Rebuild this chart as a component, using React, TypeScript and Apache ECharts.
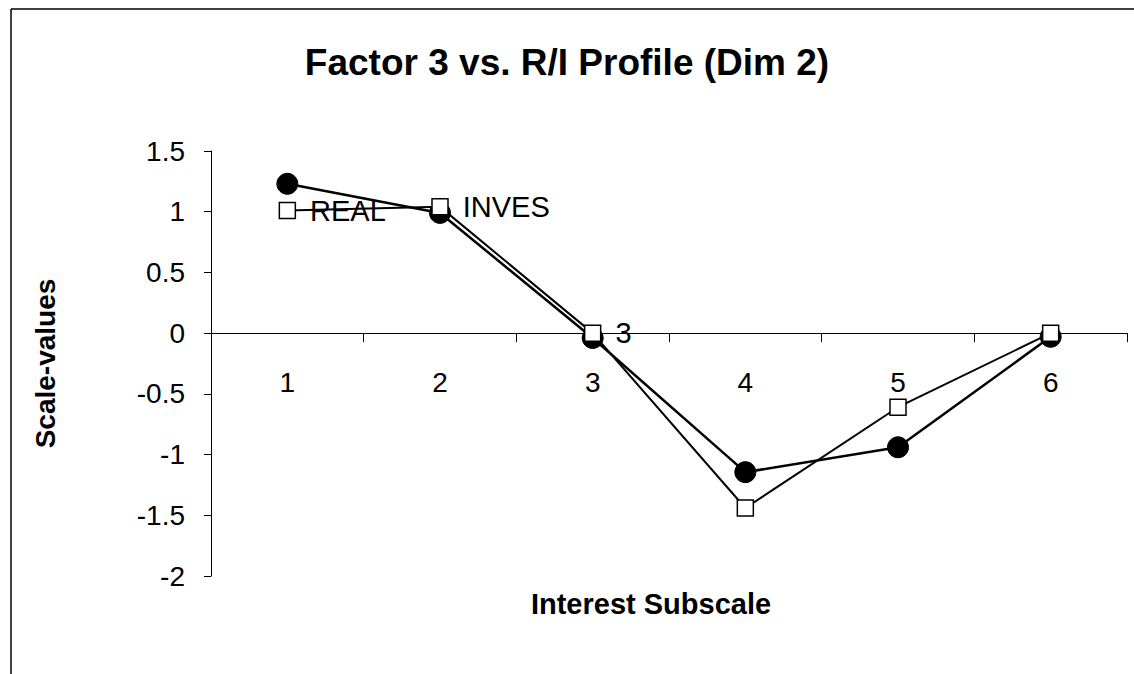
import React, { useEffect, useRef } from "react";
import * as echarts from "echarts";

const categories = ["1", "2", "3", "4", "5", "6"];
const factor3Values = [1.23, 0.99, -0.04, -1.145, -0.94, -0.03];
const profileValues = [1.01, 1.04, 0.0, -1.44, -0.61, 0.0];
const profileLabels = ["REAL", "INVES", "3", "", "", ""];
const yTicks = { min: -2, max: 1.5, interval: 0.5 };

const FONT = "'Liberation Sans', Arial, Helvetica, sans-serif";

const GRID_TOP = 151;
const GRID_BOTTOM = 98;
const CHART_H = 674;

export default function App() {
  const ref = useRef<HTMLDivElement>(null);
  useEffect(() => {
    document.body.style.margin = "0";
    const chart = echarts.init(ref.current!, null, { renderer: "svg" });
    const plotH = CHART_H - GRID_TOP - GRID_BOTTOM;
    const zeroFromBottom = ((0 - yTicks.min) / (yTicks.max - yTicks.min)) * plotH;
    chart.setOption({
      animation: false,
      backgroundColor: "#ffffff",
      textStyle: { fontFamily: FONT, color: "#000" },
      title: {
        text: "Factor 3 vs. R/I Profile (Dim 2)",
        left: "center",
        top: 44,
        padding: 0,
        textStyle: { fontFamily: FONT, fontSize: 37, fontWeight: "bold", color: "#000" },
      },
      graphic: [
        { type: "line", shape: { x1: 11, y1: 9, x2: 1134, y2: 9 }, style: { stroke: "#000", lineWidth: 1.5 } },
        { type: "line", shape: { x1: 11, y1: 9, x2: 11, y2: 674 }, style: { stroke: "#000", lineWidth: 1.5 } },
      ],
      grid: { left: 211, right: 7, top: GRID_TOP, bottom: GRID_BOTTOM, containLabel: false, outerBoundsMode: "none" },
      xAxis: {
        type: "category",
        data: categories,
        boundaryGap: true,
        position: "bottom",
        offset: -zeroFromBottom,
        axisLine: { onZero: false, lineStyle: { color: "#000", width: 1 } },
        axisTick: { show: true, length: 9, inside: false, lineStyle: { color: "#000" } },
        axisLabel: { margin: 35, fontSize: 28, color: "#000", fontFamily: FONT },
        splitLine: { show: false },
        name: "Interest Subscale",
        nameLocation: "middle",
        nameGap: 256,
        nameMoveOverlap: false,
        nameTextStyle: { fontSize: 29, fontWeight: "bold", color: "#000", fontFamily: FONT, padding: [0, 36, 0, 0] },
      },
      yAxis: {
        type: "value",
        min: yTicks.min,
        max: yTicks.max,
        interval: yTicks.interval,
        axisLine: { show: true, lineStyle: { color: "#000", width: 1 } },
        axisTick: { show: true, length: 7, lineStyle: { color: "#000" } },
        axisLabel: { margin: 26, fontSize: 28, color: "#000", fontFamily: FONT },
        splitLine: { show: false },
        name: "Scale-values",
        nameLocation: "middle",
        nameRotate: 90,
        nameGap: 152,
        nameMoveOverlap: false,
        nameTextStyle: { fontSize: 28, fontWeight: "bold", color: "#000", fontFamily: FONT },
      },
      series: [
        {
          name: "Factor 3",
          type: "line",
          data: factor3Values,
          symbol: "circle",
          symbolSize: 21,
          itemStyle: { color: "#000", borderColor: "#000" },
          lineStyle: { color: "#000", width: 2.5 },
          z: 2,
        },
        {
          name: "R/I Profile",
          type: "line",
          data: profileValues.map((v, i) => ({
            value: v,
            label: {
              show: profileLabels[i] !== "",
              formatter: profileLabels[i],
            },
          })),
          symbol: "rect",
          symbolSize: 16,
          itemStyle: { color: "#fff", borderColor: "#000", borderWidth: 1.5 },
          lineStyle: { color: "#000", width: 2 },
          label: {
            position: "right",
            distance: 14,
            fontSize: 29,
            color: "#000",
            fontFamily: FONT,
          },
          z: 3,
        },
      ],
    });
    return () => chart.dispose();
  }, []);
  return <div ref={ref} style={{ width: 1134, height: 674 }} />;
}
